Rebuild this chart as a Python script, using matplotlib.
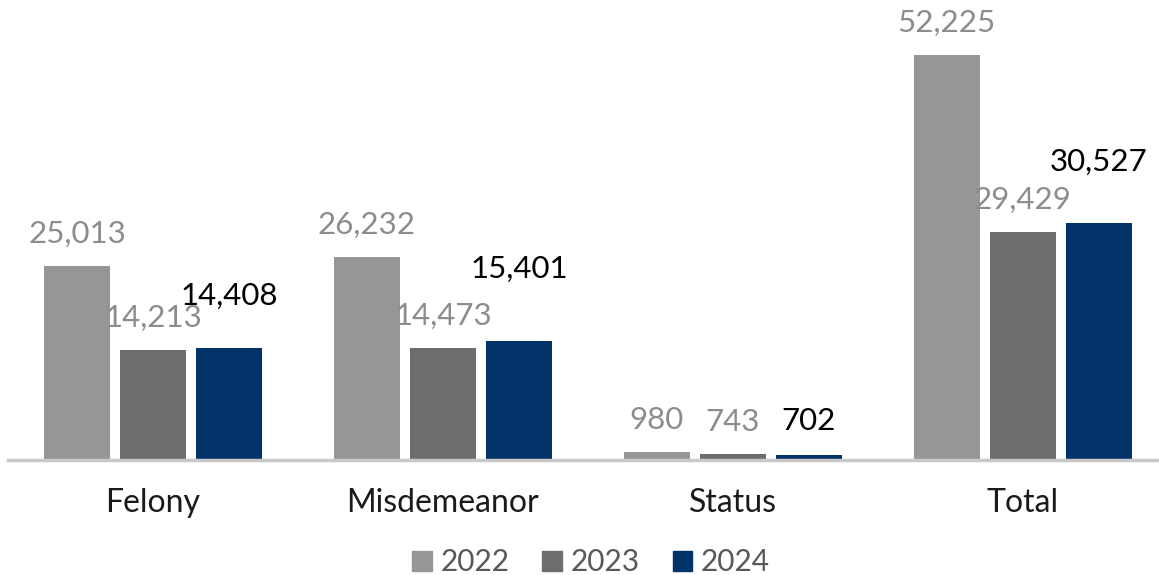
import matplotlib.pyplot as plt
import numpy as np
from matplotlib.patches import Patch

categories = ['Felony', 'Misdemeanor', 'Status', 'Total']
years = ['2022', '2023', '2024']
v2022 = [25013, 26232, 980, 52225]
v2023 = [14213, 14473, 743, 29429]
v2024 = [14408, 15401, 702, 30527]

colors = ['#969696', '#6d6d6d', '#023368']
label_colors = ['#8c8c8c', '#8c8c8c', '#000000']
# extra lift (pixels) used for the 2024 labels, placed by hand in the original
lift_2024 = [36, 56, 18, 45]

plt.rcParams['font.family'] = ['Lato', 'DejaVu Sans']

fig = plt.figure(figsize=(11.59, 5.75), dpi=100)
ax = fig.add_axes([8 / 1159, 115 / 575, 1 - 8 / 1159, 460 / 575])

x = np.arange(len(categories))
width = 0.228
step = 0.262
series = [v2022, v2023, v2024]
for i, vals in enumerate(series):
    pos = x + (i - 1) * step
    ax.bar(pos, vals, width, color=colors[i], label=years[i])
    for j, v in enumerate(vals):
        off = 18 if i < 2 else lift_2024[j] + 2
        ax.annotate(f'{v:,}', (pos[j], v), xytext=(0, off * 0.72),
                    textcoords='offset points', ha='center', va='bottom',
                    fontsize=22.5, color=label_colors[i])

ax.set_xlim(-0.5, 3.47)
ax.set_ylim(0, 52225 * 460 / 405)
ax.set_xticks(x)
ax.set_xticklabels(categories, fontsize=23, color='#1a1a1a')
ax.tick_params(axis='x', length=0, pad=20)
ax.set_yticks([])
for s in ['top', 'right', 'left']:
    ax.spines[s].set_visible(False)
ax.spines['bottom'].set_color('#c8c8c8')
ax.spines['bottom'].set_linewidth(2.5)

handles = [Patch(color=c) for c in colors]
fig.legend(handles, years, loc='center', bbox_to_anchor=(0.51, 0.022), ncol=3,
           frameon=False, fontsize=21.5, handlelength=0.65, handleheight=0.65,
           handletextpad=0.3, columnspacing=1.1, labelcolor='#595959')

fig.savefig('out.png', dpi=100)
